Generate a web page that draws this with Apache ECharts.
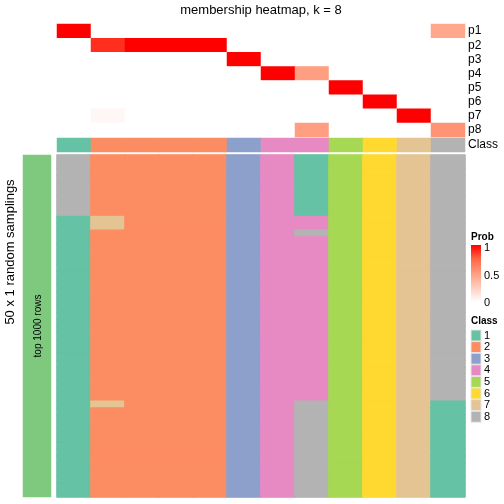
<!DOCTYPE html>
<html>
<head>
<meta charset="utf-8">
<script src="https://cdn.jsdelivr.net/npm/echarts@6/dist/echarts.min.js"></script>
<style>html,body{margin:0;padding:0;background:#fff}#c{width:504px;height:504px}</style>
</head>
<body>
<div id="c"></div>
<script>
// ---- data ----
const samples = ['s1','s2','s3','s4','s5','s6','s7','s8','s9','s10','s11','s12'];
const probLabels = ['p1','p2','p3','p4','p5','p6','p7','p8'];
const p1 = [1, 0, 0, 0, 0, 0, 0, 0, 0, 0, 0, 0.45];
const p2 = [0, 0.89, 1, 1, 1, 0, 0, 0, 0, 0, 0, 0];
const p3 = [0, 0, 0, 0, 0, 1, 0, 0, 0, 0, 0, 0];
const p4 = [0, 0, 0, 0, 0, 0, 1, 0.5, 0, 0, 0, 0];
const p5 = [0, 0, 0, 0, 0, 0, 0, 0, 1, 0, 0, 0];
const p6 = [0, 0, 0, 0, 0, 0, 0, 0, 0, 1, 0, 0];
const p7 = [0, 0.04, 0, 0, 0, 0, 0, 0, 0, 0, 1, 0];
const p8 = [0, 0, 0, 0, 0, 0, 0, 0.5, 0, 0, 0, 0.55];
const classRow = [1, 2, 2, 2, 2, 3, 4, 4, 5, 6, 7, 8];
// class per sampling (50 rows, top to bottom), one string per sample column
const samplingCols = [
  '8888888881 1111111111 1111111111 1111111111 1111111111',
  '2222222227 7222222222 2222222222 2222227222 2222222222',
  '2222222222 2222222222 2222222222 2222222222 2222222222',
  '2222222222 2222222222 2222222222 2222222222 2222222222',
  '2222222222 2222222222 2222222222 2222222222 2222222222',
  '3333333333 3333333333 3333333333 3333333333 3333333333',
  '4444444444 4444444444 4444444444 4444444444 4444444444',
  '1111111114 4844444444 4444444444 4444448888 8888888888',
  '5555555555 5555555555 5555555555 5555555555 5555555555',
  '6666666666 6666666666 6666666666 6666666666 6666666666',
  '7777777777 7777777777 7777777777 7777777777 7777777777',
  '8888888888 8888888888 8888888888 8888881111 1111111111'
];
const classNames = ['1','2','3','4','5','6','7','8'];
const classColors = ['#66C2A5','#FC8D62','#8DA0CB','#E78AC3','#A6D854','#FFD92F','#E5C494','#B3B3B3'];
const probTicks = ['1','0.5','0'];

// ---- build ----
const FONT = '"Liberation Sans", Arial, Helvetica, sans-serif';
const probRows = [p1,p2,p3,p4,p5,p6,p7,p8];
const probData = [];
probRows.forEach((row, r) => row.forEach((v, c) => probData.push([c, r, v])));
function cell(c, r, k) {
  const col = classColors[k-1];
  return {value:[c, r, k], itemStyle:{color: col, borderColor: col, borderWidth: 1}};
}
const classData = classRow.map((k, c) => ({value:[c, 0, k], itemStyle:{color: classColors[k-1]}}));
const rowIdx = [];
for (let i = 0; i < 50; i++) rowIdx.push(String(i));
const mainData = [];
samplingCols.forEach((s, c) => {
  const digits = s.replace(/\s/g, '');
  for (let r = 0; r < digits.length; r++) mainData.push(cell(c, r, +digits[r]));
});

const L = 57, W = 408;
const hidden = {show:false};
function catX(gi){ return {type:'category', gridIndex:gi, data:samples, axisLine:hidden, axisTick:hidden, axisLabel:hidden, splitLine:hidden}; }

const graphics = [
  {type:'text', z:100, x:261, y:10, style:{text:'membership heatmap, k = 8', font:'13px '+FONT, fill:'#000', textAlign:'center', textVerticalAlign:'middle'}},
  {type:'text', z:100, x:10, y:252, rotation:Math.PI/2, style:{x:0, y:0, text:'50 x 1 random samplings', font:'13px '+FONT, fill:'#000', textAlign:'center', textVerticalAlign:'middle'}},
  {type:'text', z:100, x:38, y:326, rotation:Math.PI/2, style:{x:0, y:0, text:'top 1000 rows', font:'10px '+FONT, fill:'#000', textAlign:'center', textVerticalAlign:'middle'}},
  {type:'text', z:100, x:471, y:237, style:{text:'Prob', font:'bold 10px '+FONT, fill:'#000', textVerticalAlign:'middle'}},
  {type:'rect', z:100, shape:{x:471, y:245, width:10, height:57}, style:{fill:{type:'linear', x:0, y:0, x2:0, y2:1, colorStops:[
    {offset:0, color:'#ff0000'},{offset:0.25, color:'#ff6846'},{offset:0.5, color:'#ff9e81'},{offset:0.75, color:'#ffcfbf'},{offset:1, color:'#ffffff'}]}}},
  {type:'text', z:100, x:471, y:321, style:{text:'Class', font:'bold 10px '+FONT, fill:'#000', textVerticalAlign:'middle'}}
];
probTicks.forEach((t, i) => {
  graphics.push({type:'text', z:100, x:484, y:248 + i*27.5, style:{text:t, font:'11px '+FONT, fill:'#000', textVerticalAlign:'middle'}});
});
classNames.forEach((n, i) => {
  const y = 330 + i*11.6;
  graphics.push({type:'rect', z:100, shape:{x:471, y:y, width:10, height:11}, style:{fill:classColors[i], stroke:'#e6e6e6', lineWidth:1}});
  graphics.push({type:'text', z:100, x:484, y:y+5.5, style:{text:n, font:'11px '+FONT, fill:'#000', textVerticalAlign:'middle'}});
});

const option = {
  backgroundColor:'#fff',
  animation:false,
  grid:[
    {left:L, top:24, width:W, height:113},
    {left:L, top:138, width:W, height:14},
    {left:L, top:155, width:W, height:342},
    {left:23, top:155, width:28, height:342}
  ],
  xAxis:[catX(0), catX(1), catX(2),
    {type:'category', gridIndex:3, data:['bar'], axisLine:hidden, axisTick:hidden, axisLabel:hidden, splitLine:hidden}],
  yAxis:[
    {type:'category', gridIndex:0, data:probLabels, inverse:true, position:'right', axisLine:hidden, axisTick:hidden,
      axisLabel:{interval:0, fontSize:12, fontFamily:FONT, color:'#000', margin:3}},
    {type:'category', gridIndex:1, data:['Class'], position:'right', axisLine:hidden, axisTick:hidden,
      axisLabel:{interval:0, fontSize:12, fontFamily:FONT, color:'#000', margin:3}},
    {type:'category', gridIndex:2, data:rowIdx, inverse:true, axisLine:hidden, axisTick:hidden, axisLabel:hidden},
    {type:'category', gridIndex:3, data:['bar'], axisLine:hidden, axisTick:hidden, axisLabel:hidden}
  ],
  visualMap:[{type:'continuous', show:false, seriesIndex:0, min:0, max:1,
    inRange:{color:['#ffffff','#ffcfbf','#ff9e81','#ff6846','#ff0000']}}],
  series:[
    {type:'heatmap', xAxisIndex:0, yAxisIndex:0, data:probData, emphasis:{disabled:true}},
    {type:'heatmap', xAxisIndex:1, yAxisIndex:1, data:classData, emphasis:{disabled:true}},
    {type:'heatmap', xAxisIndex:2, yAxisIndex:2, data:mainData, emphasis:{disabled:true}},
    {type:'heatmap', xAxisIndex:3, yAxisIndex:3, data:[{value:[0,0,1], itemStyle:{color:'#7FC97F'}}], emphasis:{disabled:true}}
  ],
  graphic:graphics
};
const chart = echarts.init(document.getElementById('c'), null, {renderer:'canvas'});
chart.setOption(option);
</script>
</body>
</html>
